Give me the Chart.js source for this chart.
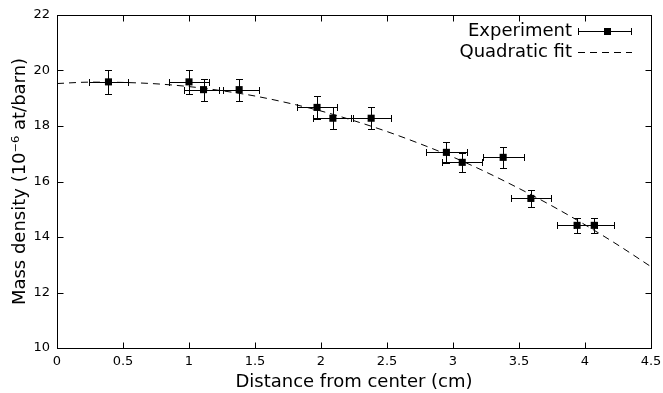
<!DOCTYPE html>
<html><head><meta charset="utf-8">
<script src="https://cdn.jsdelivr.net/npm/chart.js@4/dist/chart.umd.min.js"></script>
<style>html,body{margin:0;padding:0;background:#fff;} #wrap{width:663px;height:393px;}</style>
</head><body><div id="wrap"><canvas id="c" width="663" height="393"></canvas></div>
<script>
// ---- data ----
const distance    = [0.39, 1.00, 1.11, 1.38, 1.97, 2.09, 2.38, 2.95, 3.07, 3.38, 3.59, 3.94, 4.07];
const density     = [19.59, 19.59, 19.31, 19.31, 18.67, 18.28, 18.28, 17.05, 16.69, 16.87, 15.39, 14.42, 14.42];
const distanceErr = [0.15, 0.15, 0.145, 0.15, 0.15, 0.15, 0.15, 0.155, 0.15, 0.155, 0.15, 0.15, 0.15];
const densityErr  = [0.42, 0.42, 0.40, 0.40, 0.42, 0.40, 0.40, 0.37, 0.35, 0.37, 0.32, 0.28, 0.28];
const fitDistance = [0, 0.25, 0.5, 0.75, 1.0, 1.25, 1.5, 1.75, 2.0, 2.25, 2.5, 2.75, 3.0, 3.25, 3.5, 3.75, 4.0, 4.25, 4.5];
const fitDensity  = [19.53, 19.58, 19.57, 19.52, 19.42, 19.27, 19.08, 18.83, 18.54, 18.19, 17.80, 17.36, 16.88, 16.34, 15.75, 15.12, 14.44, 13.71, 12.93];
const xTicks = [0, 0.5, 1, 1.5, 2, 2.5, 3, 3.5, 4, 4.5];
const xTickLabels = ['0', '0.5', '1', '1.5', '2', '2.5', '3', '3.5', '4', '4.5'];
const yTicks = [10, 12, 14, 16, 18, 20, 22];
const yTickLabels = ['10', '12', '14', '16', '18', '20', '22'];
const seriesNames = ['Experiment', 'Quadratic fit'];
const xTitle = 'Distance from center (cm)';
const yTitle = 'Mass density (10\u207B\u2076 at/barn)';

const FONT = "'DejaVu Sans', sans-serif";
const INK = '#000';

const expPoints = distance.map((x, i) => ({x: x, y: density[i], ex: distanceErr[i], ey: densityErr[i]}));
const fitPoints = fitDistance.map((x, i) => ({x: x, y: fitDensity[i]}));

const framePlugin = {
  id: 'frame',
  beforeDatasetsDraw(chart) {
    const ctx = chart.ctx, xs = chart.scales.x, ys = chart.scales.y;
    ctx.save();
    ctx.strokeStyle = INK; ctx.lineWidth = 1;
    const cap = 3.5;
    expPoints.forEach(p => {
      const px = Math.round(xs.getPixelForValue(p.x)) + 0.5;
      const py = Math.round(ys.getPixelForValue(p.y)) + 0.5;
      const x1 = Math.round(xs.getPixelForValue(p.x - p.ex)) + 0.5;
      const x2 = Math.round(xs.getPixelForValue(p.x + p.ex)) + 0.5;
      const y1 = Math.round(ys.getPixelForValue(p.y - p.ey)) + 0.5;
      const y2 = Math.round(ys.getPixelForValue(p.y + p.ey)) + 0.5;
      ctx.beginPath();
      ctx.moveTo(x1, py); ctx.lineTo(x2, py);
      ctx.moveTo(x1, py - cap); ctx.lineTo(x1, py + cap);
      ctx.moveTo(x2, py - cap); ctx.lineTo(x2, py + cap);
      ctx.moveTo(px, y1); ctx.lineTo(px, y2);
      ctx.moveTo(px - cap, y1); ctx.lineTo(px + cap, y1);
      ctx.moveTo(px - cap, y2); ctx.lineTo(px + cap, y2);
      ctx.stroke();
    });
    ctx.restore();
  },
  afterDraw(chart) {
    const ctx = chart.ctx, a = chart.chartArea, xs = chart.scales.x, ys = chart.scales.y;
    ctx.save();
    ctx.strokeStyle = INK; ctx.lineWidth = 1;
    const L = Math.round(a.left) + 0.5, R = Math.round(a.right) + 0.5;
    const T = Math.round(a.top) + 0.5, B = Math.round(a.bottom) + 0.5;
    ctx.strokeRect(L, T, R - L, B - T);
    const tl = 6;
    ctx.beginPath();
    xTicks.forEach(v => {
      const px = Math.round(xs.getPixelForValue(v)) + 0.5;
      ctx.moveTo(px, B); ctx.lineTo(px, B - tl);
      ctx.moveTo(px, T); ctx.lineTo(px, T + tl);
    });
    yTicks.forEach(v => {
      const py = Math.round(ys.getPixelForValue(v)) + 0.5;
      ctx.moveTo(L, py); ctx.lineTo(L + tl, py);
      ctx.moveTo(R, py); ctx.lineTo(R - tl, py);
    });
    ctx.stroke();

    // legend (key) at top right
    ctx.font = '18px ' + FONT;
    ctx.fillStyle = INK;
    ctx.textAlign = 'right';
    ctx.textBaseline = 'middle';
    const tx = 572, y1 = 31, y2 = 52, s1 = 578, s2 = 632;
    ctx.fillText(seriesNames[0], tx, y1);
    ctx.fillText(seriesNames[1], tx, y2);
    ctx.beginPath();
    ctx.moveTo(s1, y1 + 0.5); ctx.lineTo(s2, y1 + 0.5);
    ctx.moveTo(s1 + 0.5, y1 - 3); ctx.lineTo(s1 + 0.5, y1 + 4);
    ctx.moveTo(s2 - 0.5, y1 - 3); ctx.lineTo(s2 - 0.5, y1 + 4);
    ctx.stroke();
    ctx.fillRect(604, y1 - 3, 7, 7);
    ctx.setLineDash([7, 5]);
    ctx.beginPath();
    ctx.moveTo(s1, y2 + 0.5); ctx.lineTo(s2, y2 + 0.5);
    ctx.stroke();
    ctx.restore();
  }
};

new Chart(document.getElementById('c'), {
  type: 'scatter',
  data: {
    datasets: [
      {
        label: seriesNames[0],
        data: expPoints,
        showLine: false,
        pointStyle: 'rect',
        pointRadius: 5,
        pointBorderWidth: 0,
        pointBackgroundColor: INK,
        pointBorderColor: INK,
        order: 1
      },
      {
        label: seriesNames[1],
        type: 'line',
        data: fitPoints,
        showLine: true,
        borderColor: INK,
        borderWidth: 1,
        borderDash: [7, 5],
        pointRadius: 0,
        fill: false,
        cubicInterpolationMode: 'monotone',
        order: 2
      }
    ]
  },
  options: {
    responsive: false,
    devicePixelRatio: 1,
    animation: false,
    layout: { padding: { top: 15, right: 12, left: 0, bottom: 0 } },
    plugins: { legend: { display: false }, tooltip: { enabled: false } },
    scales: {
      x: {
        type: 'linear', min: 0, max: 4.5,
        afterBuildTicks: s => { s.ticks = xTicks.map(v => ({value: v})); },
        afterFit: s => { s.height = 45; s.paddingLeft = 0; s.paddingRight = 0; },
        grid: { display: false, drawTicks: false },
        border: { display: false },
        ticks: { color: INK, font: { family: FONT, size: 13 }, padding: 6, maxRotation: 0, autoSkip: false,
                 callback: (v, i) => xTickLabels[i] },
        title: { display: true, text: xTitle, color: INK, font: { family: FONT, size: 18 }, padding: { top: 0, bottom: 0 } }
      },
      y: {
        type: 'linear', min: 10, max: 22,
        afterBuildTicks: s => { s.ticks = yTicks.map(v => ({value: v})); },
        afterFit: s => { s.width = 57; s.paddingTop = 0; s.paddingBottom = 0; },
        grid: { display: false, drawTicks: false },
        border: { display: false },
        ticks: { color: INK, font: { family: FONT, size: 13 }, padding: 7, autoSkip: false,
                 callback: (v, i) => yTickLabels[i] },
        title: { display: true, text: yTitle, color: INK, font: { family: FONT, size: 18 }, padding: { top: 10, bottom: 0 } }
      }
    }
  },
  plugins: [framePlugin]
});
</script>
</body></html>
